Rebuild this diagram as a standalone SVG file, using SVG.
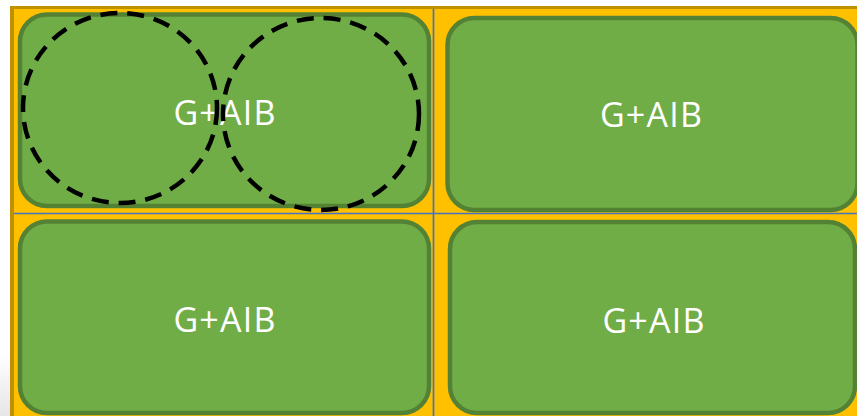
<svg xmlns="http://www.w3.org/2000/svg" width="857" height="416" viewBox="0 0 857 416">
  <defs>
    <style>
      .cell { fill: #70AD47; stroke: #548235; stroke-width: 4.5; }
      .label { fill: #FFFFFF; font-family: "Open Sans", "Liberation Sans", sans-serif; font-size: 34px; letter-spacing: 1.2px; text-anchor: middle; }
      .grid { stroke: #4472C4; stroke-width: 1.7; fill: none; }
      .ring { fill: none; stroke: #000000; stroke-width: 4.5; stroke-dasharray: 17 10; }
    </style>
    <linearGradient id="edgeShade" x1="0" y1="0" x2="0" y2="1">
      <stop offset="0" stop-color="#FFFFFF"/>
      <stop offset="0.85" stop-color="#FFFFFF"/>
      <stop offset="1" stop-color="#E6E6E6"/>
    </linearGradient>
  </defs>

  <!-- page margin -->
  <rect x="0" y="0" width="857" height="416" fill="url(#edgeShade)"/>

  <!-- gold panel with darker frame on top and left -->
  <rect x="10" y="6" width="847" height="410" fill="#BF9000"/>
  <rect x="14" y="9" width="843" height="407" fill="#FFC000"/>

  <!-- quadrant divider lines -->
  <g id="grid">
    <line class="grid" x1="14" y1="213.5" x2="857" y2="213.5"/>
    <line class="grid" x1="433.5" y1="9" x2="433.5" y2="416"/>
  </g>

  <g id="cell-top-left">
    <rect class="cell" x="20" y="14.5" width="409" height="191.5" rx="27"/>
    <text class="label" x="225" y="125">G+AIB</text>
  </g>

  <g id="cell-top-right">
    <rect class="cell" x="447.5" y="18" width="410" height="192" rx="27"/>
    <text class="label" x="651.5" y="127">G+AIB</text>
  </g>

  <g id="cell-bottom-left">
    <rect class="cell" x="20" y="221.5" width="409" height="191.5" rx="27"/>
    <text class="label" x="225" y="332">G+AIB</text>
  </g>

  <g id="cell-bottom-right">
    <rect class="cell" x="450" y="222" width="405" height="191" rx="27"/>
    <text class="label" x="654" y="333">G+AIB</text>
  </g>

  <!-- dashed overlap rings -->
  <g id="connectors">
    <ellipse class="ring" cx="120" cy="108" rx="97" ry="95"/>
    <ellipse class="ring" cx="321" cy="114" rx="98" ry="96"/>
  </g>
</svg>
